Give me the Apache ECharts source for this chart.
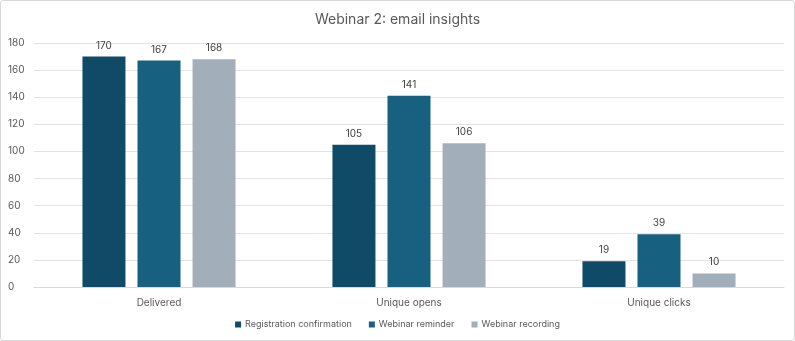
<!DOCTYPE html>
<html><head><meta charset="utf-8">
<script src="https://cdn.jsdelivr.net/npm/echarts@6/dist/echarts.min.js"></script>
<style>html,body{margin:0;padding:0;background:#fff}#c{width:795px;height:341px;box-sizing:border-box;border:1px solid #d9d9d9;border-radius:3px}</style>
</head><body><div id="c"></div>
<script>
const categories = ['Delivered', 'Unique opens', 'Unique clicks'];
const registrationConfirmation = [170, 105, 19];
const webinarReminder = [167, 141, 39];
const webinarRecording = [168, 106, 10];
const seriesNames = ['Registration confirmation', 'Webinar reminder', 'Webinar recording'];
const colors = ['#0F4B67', '#17607F', '#A2AFBA'];

const chart = echarts.init(document.getElementById('c'));
const font = 'Inter, "Noto Sans", sans-serif';
const mk = (name, data, color) => ({
  name, type: 'bar', data, barWidth: 43, barGap: '28%',
  itemStyle: { color },
  label: { show: true, position: 'top', color: '#404040', fontSize: 10, fontFamily: font, distance: 6 }
});
chart.setOption({
  animation: false,
  title: { text: 'Webinar 2: email insights', left: 'center', top: 7,
    textStyle: { color: '#595959', fontSize: 14, fontWeight: 'normal', fontFamily: font } },
  legend: { bottom: 6, itemWidth: 6, itemHeight: 6, itemGap: 17, icon: 'rect',
    textStyle: { color: '#595959', fontSize: 9, fontFamily: font, padding: [0, 0, 0, -1] }, data: seriesNames },
  grid: { left: 33, right: 10, top: 42, bottom: 53 },
  xAxis: { type: 'category', data: categories,
    axisLine: { lineStyle: { color: '#d9d9d9' } }, axisTick: { show: false },
    axisLabel: { color: '#595959', fontSize: 10, fontFamily: font, margin: 11 } },
  yAxis: { type: 'value', min: 0, max: 180, interval: 20,
    axisLine: { show: false }, axisTick: { show: false },
    splitLine: { lineStyle: { color: '#e3e3e3' } },
    axisLabel: { color: '#595959', fontSize: 10, fontFamily: font, margin: 26, align: 'left' } },
  series: [
    mk(seriesNames[0], registrationConfirmation, colors[0]),
    mk(seriesNames[1], webinarReminder, colors[1]),
    mk(seriesNames[2], webinarRecording, colors[2])
  ]
});
</script></body></html>
